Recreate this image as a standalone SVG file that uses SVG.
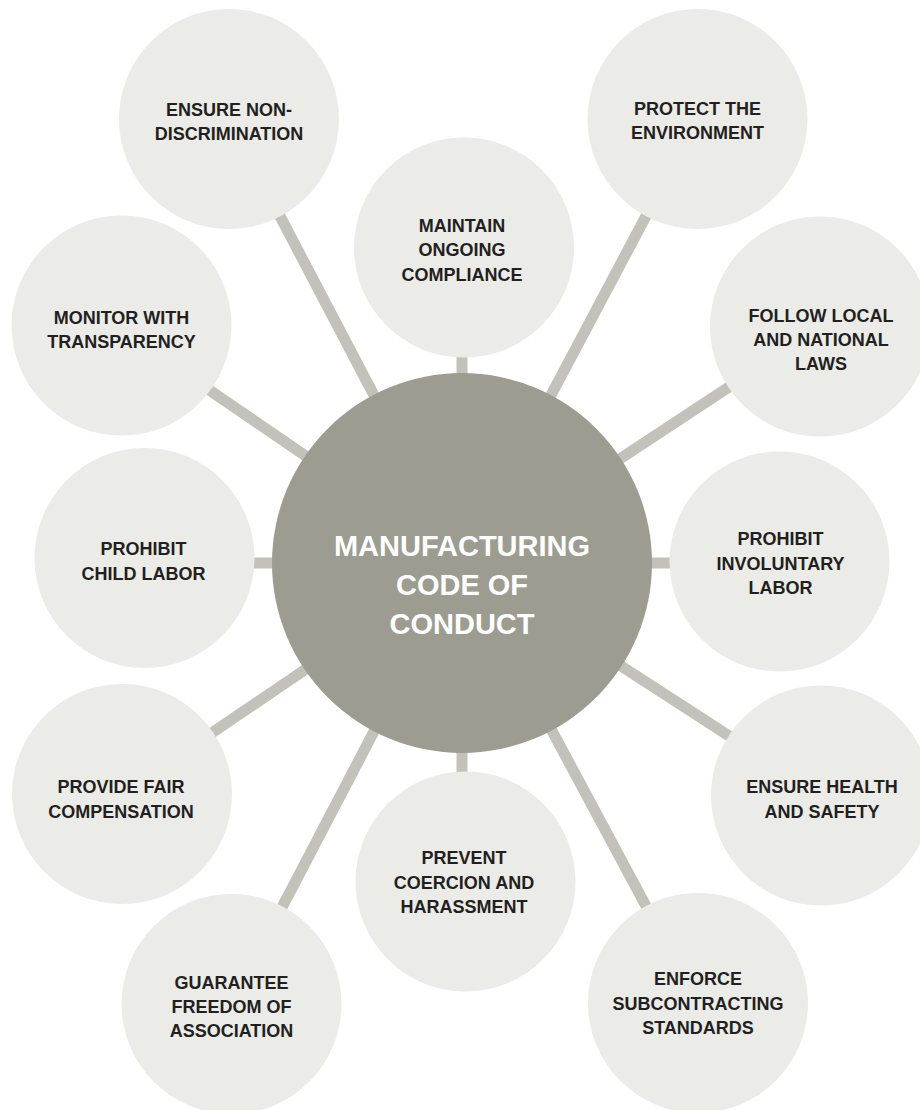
<svg xmlns="http://www.w3.org/2000/svg" width="920" height="1110" viewBox="0 0 920 1110">
<style>
.bg{fill:#ffffff}
.conn{stroke:#c2c2ba;stroke-width:11;fill:none}
.leaf{fill:#ebebe8}
.hub{fill:#9c9c90}
.t{font-family:"Liberation Sans",Arial,sans-serif;font-weight:bold;font-size:18px;fill:#231f20;text-anchor:middle}
.ht{font-family:"Liberation Sans",Arial,sans-serif;font-weight:bold;font-size:29px;fill:#ffffff;text-anchor:middle}
</style>
<rect class="bg" x="0" y="0" width="920" height="1110"/>
<g id="connectors">
<line class="conn" x1="462" y1="563" x2="229" y2="119"/>
<line class="conn" x1="462" y1="563" x2="697.5" y2="119"/>
<line class="conn" x1="462" y1="563" x2="462" y2="248"/>
<line class="conn" x1="462" y1="563" x2="121.5" y2="330"/>
<line class="conn" x1="462" y1="563" x2="820" y2="327"/>
<line class="conn" x1="462" y1="563" x2="144.5" y2="563"/>
<line class="conn" x1="462" y1="563" x2="779.5" y2="563"/>
<line class="conn" x1="462" y1="563" x2="122" y2="794"/>
<line class="conn" x1="462" y1="563" x2="821" y2="795.5"/>
<line class="conn" x1="462" y1="563" x2="462" y2="881.5"/>
<line class="conn" x1="462" y1="563" x2="231.5" y2="1004"/>
<line class="conn" x1="462" y1="563" x2="698" y2="1003"/>
</g>
<g id="hub">
<circle class="hub" cx="462" cy="563" r="190"/>
<text class="ht" x="462" y="556">MANUFACTURING</text>
<text class="ht" x="462" y="595">CODE OF</text>
<text class="ht" x="462" y="634">CONDUCT</text>
</g>
<g id="non-discrimination">
<circle class="leaf" cx="229" cy="119" r="110"/>
<text class="t" x="229" y="116">ENSURE NON-</text>
<text class="t" x="229" y="139.5">DISCRIMINATION</text>
</g>
<g id="environment">
<circle class="leaf" cx="697.5" cy="119" r="110"/>
<text class="t" x="697.5" y="115">PROTECT THE</text>
<text class="t" x="697.5" y="139">ENVIRONMENT</text>
</g>
<g id="compliance">
<circle class="leaf" cx="464" cy="247.5" r="110"/>
<text class="t" x="462" y="232">MAINTAIN</text>
<text class="t" x="462" y="256">ONGOING</text>
<text class="t" x="462" y="281">COMPLIANCE</text>
</g>
<g id="transparency">
<circle class="leaf" cx="121.5" cy="325.5" r="110"/>
<text class="t" x="121.5" y="324">MONITOR WITH</text>
<text class="t" x="121.5" y="348">TRANSPARENCY</text>
</g>
<g id="laws">
<circle class="leaf" cx="820" cy="326.5" r="110"/>
<text class="t" x="821" y="322">FOLLOW LOCAL</text>
<text class="t" x="821" y="346">AND NATIONAL</text>
<text class="t" x="821" y="370">LAWS</text>
</g>
<g id="child-labor">
<circle class="leaf" cx="144.5" cy="558" r="110"/>
<text class="t" x="143.5" y="555">PROHIBIT</text>
<text class="t" x="143.5" y="580">CHILD LABOR</text>
</g>
<g id="involuntary-labor">
<circle class="leaf" cx="779.5" cy="561.5" r="110"/>
<text class="t" x="780.5" y="545">PROHIBIT</text>
<text class="t" x="780.5" y="569.5">INVOLUNTARY</text>
<text class="t" x="780.5" y="594">LABOR</text>
</g>
<g id="compensation">
<circle class="leaf" cx="122" cy="794" r="110"/>
<text class="t" x="121" y="793">PROVIDE FAIR</text>
<text class="t" x="121" y="818">COMPENSATION</text>
</g>
<g id="health-safety">
<circle class="leaf" cx="821" cy="795.5" r="110"/>
<text class="t" x="822" y="793">ENSURE HEALTH</text>
<text class="t" x="822" y="818">AND SAFETY</text>
</g>
<g id="coercion">
<circle class="leaf" cx="465.5" cy="881.5" r="110"/>
<text class="t" x="464" y="864">PREVENT</text>
<text class="t" x="464" y="889">COERCION AND</text>
<text class="t" x="464" y="913">HARASSMENT</text>
</g>
<g id="association">
<circle class="leaf" cx="231.5" cy="1004" r="110"/>
<text class="t" x="231.5" y="989">GUARANTEE</text>
<text class="t" x="231.5" y="1013">FREEDOM OF</text>
<text class="t" x="231.5" y="1037">ASSOCIATION</text>
</g>
<g id="subcontracting">
<circle class="leaf" cx="698" cy="1003" r="110"/>
<text class="t" x="698" y="985">ENFORCE</text>
<text class="t" x="698" y="1010">SUBCONTRACTING</text>
<text class="t" x="698" y="1034">STANDARDS</text>
</g>
</svg>
